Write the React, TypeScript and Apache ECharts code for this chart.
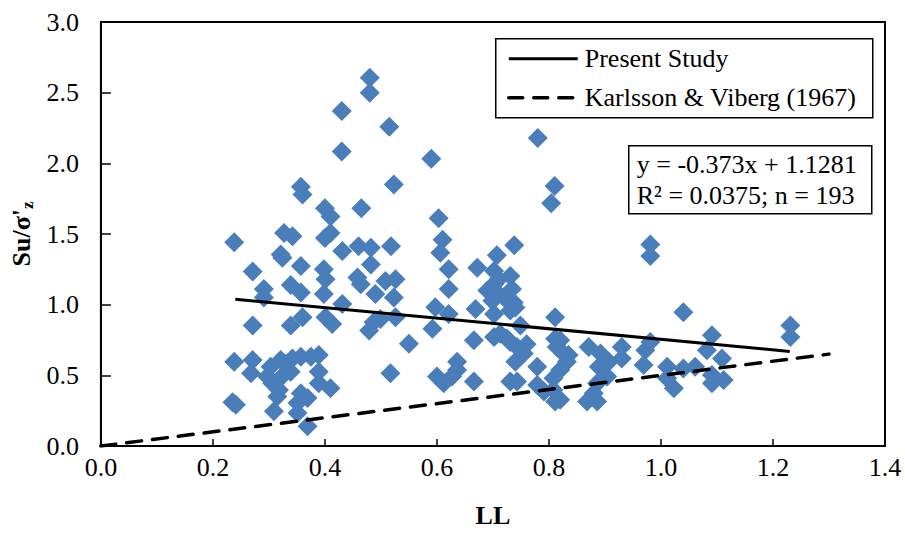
import React, { useEffect, useRef } from "react";
import * as echarts from "echarts";

const LL: number[] = [
  0.48, 0.48, 0.43, 0.515, 0.43, 0.357, 0.36, 0.523, 0.40, 0.41, 0.465, 0.238, 0.327, 0.342, 0.40, 0.41, 0.431, 0.46, 0.482, 0.518, 0.321,
  0.324, 0.357, 0.271, 0.398, 0.401, 0.339, 0.357, 0.291, 0.291, 0.398, 0.271, 0.339, 0.36, 0.401, 0.413, 0.431, 0.458, 0.464, 0.482, 0.49, 0.508, 0.479, 0.487, 0.517,
  0.238, 0.271, 0.268, 0.303, 0.321, 0.342, 0.357, 0.375, 0.389, 0.297, 0.306, 0.318, 0.339, 0.389, 0.389, 0.41, 0.357, 0.369, 0.315, 0.351, 0.241, 0.309, 0.351, 0.369,
  0.235, 0.33, 0.32,
  0.59, 0.78, 0.81, 0.804, 0.603, 0.61, 0.606, 0.707, 0.738,
  0.621, 0.672, 0.702, 0.731, 0.526, 0.621, 0.702, 0.71, 0.734, 0.699, 0.737, 0.523, 0.526, 0.499, 0.597, 0.621, 0.669, 0.702, 0.731, 0.749, 0.592, 0.811,
  0.55, 0.666, 0.702, 0.713, 0.731, 0.743, 0.755, 0.74, 0.811, 0.814, 0.826, 0.832, 0.82, 0.636, 0.636, 0.627, 0.60, 0.612, 0.666, 0.779, 0.731, 0.743, 0.779, 0.808, 0.808, 0.811, 0.791,
  0.72, 0.71, 0.74, 0.725, 0.76, 0.69,
  0.981, 0.981, 1.04, 0.82, 0.835, 0.82, 0.871, 0.892, 0.889, 0.907, 0.904, 0.886, 0.88, 0.868, 0.886, 0.93, 0.93, 0.972, 0.981, 0.969, 1.011, 1.011, 1.023, 1.04, 1.061, 1.091, 1.082, 1.109, 1.091, 1.112, 1.091,
  1.231, 1.231,
];

const SU: number[] = [
  2.605, 2.50, 2.371, 2.259, 2.084, 1.834, 1.78, 1.85, 1.682, 1.624, 1.682, 1.442, 1.507, 1.484, 1.472, 1.507, 1.379, 1.414, 1.402, 1.414, 1.355,
  1.332, 1.274, 1.234, 1.25, 1.18, 1.14, 1.086, 1.11, 1.051, 1.075, 0.853, 0.853, 0.911, 0.911, 0.864, 1.005, 1.192, 1.145, 1.285, 1.075, 1.168, 0.818, 0.876, 0.514,
  0.596, 0.608, 0.514, 0.561, 0.608, 0.619, 0.631, 0.631, 0.643, 0.491, 0.444, 0.397, 0.526, 0.526, 0.444, 0.409, 0.374, 0.339, 0.35, 0.304, 0.292, 0.245, 0.234, 0.14,
  0.31, 0.58, 0.48,
  2.033, 2.18, 1.84, 1.717, 1.612, 1.46, 1.367, 1.35, 1.421,
  1.25, 1.262, 1.239, 1.203, 1.18, 1.11, 1.145, 1.075, 1.11, 1.028, 1.016, 1.051, 0.911, 0.899, 0.981, 0.934, 0.969, 0.934, 0.958, 0.853, 0.829, 0.911,
  0.724, 0.748, 0.771, 0.794, 0.736, 0.701, 0.654, 0.596, 0.759, 0.701, 0.654, 0.596, 0.538, 0.596, 0.538, 0.491, 0.491, 0.444, 0.456, 0.561, 0.456, 0.456, 0.432, 0.479, 0.397, 0.315, 0.386,
  1.05, 1.18, 0.98, 0.76, 0.72, 1.10,
  1.344, 1.425, 0.946, 0.748, 0.643, 0.327, 0.701, 0.654, 0.561, 0.596, 0.491, 0.444, 0.374, 0.315, 0.315, 0.701, 0.619, 0.678, 0.736, 0.573, 0.561, 0.479, 0.409, 0.549, 0.561, 0.783, 0.678, 0.619, 0.503, 0.467, 0.444,
  0.853, 0.771,
];

// Regression (Present Study): y = slope*x + intercept, drawn over LL range
const presentCoef: number[] = [-0.373, 1.1281];
const presentRange: number[] = [0.24, 1.23];
// Karlsson & Viberg (1967): Su/σ'z = 0.5 LL
const karlssonSlope: number[] = [0.5];
const karlssonRange: number[] = [0, 1.3];

const xTicks = { min: 0, max: 1.4, interval: 0.2 };
const yTicks = { min: 0, max: 3.0, interval: 0.5 };

const legendLabels: string[] = ["Present Study", "Karlsson & Viberg (1967)"];
const equationLines: string[] = ["y = -0.373x + 1.1281", "R² = 0.0375; n = 193"];

const FONT = "'Liberation Serif', 'Times New Roman', serif";

export default function App() {
  const ref = useRef<HTMLDivElement>(null);
  useEffect(() => {
    document.body.style.margin = "0";
    const chart = echarts.init(ref.current!, null, { renderer: "svg" });
    const scatterData = LL.map((x, i) => [x, SU[i]]);
    const presentData = presentRange.map((x) => [x, presentCoef[0] * x + presentCoef[1]]);
    const karlssonData = karlssonRange.map((x) => [x, karlssonSlope[0] * x]);

    chart.setOption({
      animation: false,
      backgroundColor: "#ffffff",
      grid: {
        left: 100,
        top: 22,
        right: 20,
        bottom: 83,
        show: true,
        borderColor: "#000",
        borderWidth: 2,
        backgroundColor: "transparent",
      },
      xAxis: {
        type: "value",
        min: xTicks.min,
        max: xTicks.max,
        interval: xTicks.interval,
        name: "LL",
        nameLocation: "middle",
        nameGap: 56,
        nameTextStyle: { fontFamily: FONT, fontSize: 26, fontWeight: "bold", color: "#000" },
        axisLine: { show: true, lineStyle: { color: "#000", width: 2 } },
        axisTick: { show: true, inside: true, length: 7, lineStyle: { color: "#000", width: 1.5 } },
        axisLabel: {
          fontFamily: FONT,
          fontSize: 26,
          color: "#000",
          margin: 8,
          formatter: (v: number) => v.toFixed(1),
        },
        splitLine: { show: false },
      },
      yAxis: {
        type: "value",
        min: yTicks.min,
        max: yTicks.max,
        interval: yTicks.interval,
        name: "{a|Su/σ'}{b|z}",
        nameLocation: "middle",
        nameRotate: 90,
        nameGap: 64,
        nameTextStyle: {
          fontFamily: FONT,
          fontSize: 26,
          fontWeight: "bold",
          color: "#000",
          rich: {
            a: { fontFamily: FONT, fontSize: 26, fontWeight: "bold", color: "#000" },
            b: { fontFamily: FONT, fontSize: 17, fontWeight: "bold", color: "#000", padding: [12, 0, 0, 0] },
          },
        },
        axisLine: { show: true, lineStyle: { color: "#000", width: 2 } },
        axisTick: { show: true, inside: true, length: 10, lineStyle: { color: "#000", width: 1.5 } },
        axisLabel: {
          fontFamily: FONT,
          fontSize: 26,
          color: "#000",
          margin: 22,
          formatter: (v: number) => v.toFixed(1),
        },
        splitLine: { show: false },
      },
      series: [
        {
          type: "scatter",
          data: scatterData,
          symbol: "diamond",
          symbolSize: 20,
          itemStyle: { color: "#4A7EBB", opacity: 1 },
          z: 2,
        },
        {
          type: "line",
          data: presentData,
          showSymbol: false,
          lineStyle: { color: "#000", width: 3 },
          z: 3,
        },
        {
          type: "line",
          data: karlssonData,
          showSymbol: false,
          lineStyle: { color: "#000", width: 3.5, type: [15, 11], cap: "round" },
          z: 3,
        },
      ],
      graphic: [
        {
          type: "group",
          left: 495,
          top: 38,
          z: 10,
          children: [
            { type: "rect", shape: { x: 0, y: 0, width: 377, height: 79 }, style: { fill: "#fff", stroke: "#000", lineWidth: 1.5 } },
            { type: "line", shape: { x1: 13, y1: 20, x2: 82, y2: 20 }, style: { stroke: "#000", lineWidth: 3 } },
            { type: "text", x: 89, y: 20, style: { text: legendLabels[0], fontFamily: FONT, fontSize: 26, fill: "#000", verticalAlign: "middle" } },
            { type: "line", shape: { x1: 13, y1: 59, x2: 82, y2: 59 }, style: { stroke: "#000", lineWidth: 3.5, lineDash: [14, 11], lineCap: "round" } },
            { type: "text", x: 89, y: 59, style: { text: legendLabels[1], fontFamily: FONT, fontSize: 26, fill: "#000", verticalAlign: "middle" } },
          ],
        },
        {
          type: "group",
          left: 628,
          top: 145,
          z: 10,
          children: [
            { type: "rect", shape: { x: 0, y: 0, width: 243, height: 68 }, style: { fill: "#fff", stroke: "#000", lineWidth: 1.5 } },
            { type: "text", x: 8, y: 19, style: { text: equationLines[0], fontFamily: FONT, fontSize: 26, fill: "#000", verticalAlign: "middle" } },
            { type: "text", x: 8, y: 50, style: { text: equationLines[1], fontFamily: FONT, fontSize: 26, fill: "#000", verticalAlign: "middle" } },
          ],
        },
      ],
    });
    return () => chart.dispose();
  }, []);
  return <div ref={ref} style={{ width: 905, height: 533, position: "absolute", left: 0, top: 0 }} />;
}
